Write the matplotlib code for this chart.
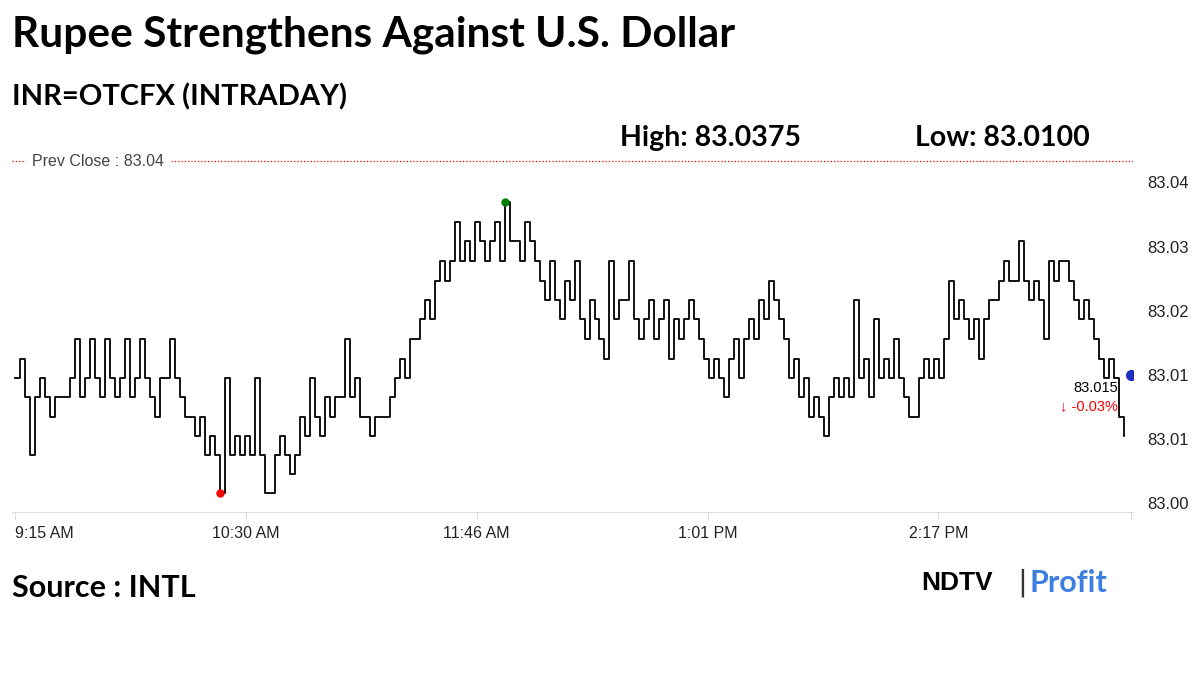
import numpy as np
import matplotlib.pyplot as plt

# INR=OTCFX intraday, one reading about every 1.6 minutes from 9:15 AM
price = [
    83.0146, 83.0169, 83.0124, 83.0056, 83.0124, 83.0146, 83.0124, 83.0101, 83.0124, 83.0124,
    83.0124, 83.0146, 83.0192, 83.0124, 83.0146, 83.0192, 83.0146, 83.0124, 83.0192, 83.0146,
    83.0124, 83.0146, 83.0192, 83.0124, 83.0146, 83.0192, 83.0146, 83.0124, 83.0101, 83.0146,
    83.0146, 83.0192, 83.0146, 83.0124, 83.0101, 83.0101, 83.0078, 83.0101, 83.0056, 83.0078,
    83.0056, 83.0012, 83.0146, 83.0056, 83.0078, 83.0056, 83.0078, 83.0056, 83.0146, 83.0056,
    83.0012, 83.0012, 83.0056, 83.0078, 83.0056, 83.0034, 83.0056, 83.0101, 83.0078, 83.0146,
    83.0101, 83.0078, 83.0124, 83.0101, 83.0124, 83.0124, 83.0192, 83.0124, 83.0146, 83.0101,
    83.0101, 83.0078, 83.0101, 83.0101, 83.0101, 83.0124, 83.0146, 83.0169, 83.0146, 83.0192,
    83.0192, 83.0215, 83.0238, 83.0215, 83.0260, 83.0283, 83.0260, 83.0283, 83.0329, 83.0283,
    83.0306, 83.0283, 83.0329, 83.0306, 83.0283, 83.0306, 83.0329, 83.0283, 83.0352, 83.0306,
    83.0306, 83.0283, 83.0329, 83.0306, 83.0283, 83.0260, 83.0238, 83.0283, 83.0238, 83.0215,
    83.0260, 83.0238, 83.0283, 83.0215, 83.0192, 83.0238, 83.0215, 83.0192, 83.0169, 83.0283,
    83.0215, 83.0238, 83.0238, 83.0283, 83.0215, 83.0192, 83.0215, 83.0238, 83.0192, 83.0215,
    83.0238, 83.0169, 83.0215, 83.0192, 83.0215, 83.0238, 83.0215, 83.0192, 83.0169, 83.0146,
    83.0169, 83.0146, 83.0124, 83.0169, 83.0192, 83.0146, 83.0192, 83.0215, 83.0192, 83.0238,
    83.0215, 83.0260, 83.0238, 83.0215, 83.0192, 83.0146, 83.0169, 83.0124, 83.0146, 83.0101,
    83.0124, 83.0101, 83.0078, 83.0124, 83.0146, 83.0124, 83.0146, 83.0124, 83.0238, 83.0146,
    83.0169, 83.0124, 83.0215, 83.0146, 83.0169, 83.0146, 83.0192, 83.0146, 83.0124, 83.0101,
    83.0101, 83.0146, 83.0169, 83.0146, 83.0169, 83.0146, 83.0192, 83.0260, 83.0215, 83.0238,
    83.0215, 83.0192, 83.0215, 83.0169, 83.0215, 83.0238, 83.0238, 83.0260, 83.0283, 83.0260,
    83.0260, 83.0306, 83.0260, 83.0238, 83.0260, 83.0238, 83.0192, 83.0283, 83.0260, 83.0283,
    83.0283, 83.0260, 83.0238, 83.0215, 83.0238, 83.0215, 83.0192, 83.0169, 83.0146, 83.0169,
    83.0146, 83.0101, 83.0078,
]
step_min = 1.63
minutes = np.arange(len(price)) * step_min

prev_close = 83.04
day_high, day_low = 83.0375, 83.0100
last_price = 83.015
change_pct = -0.03
low_idx, high_idx = 41, 98

xtick_min = [0, 75.3, 150.6, 226, 301.3]
xtick_lab = ['9:15 AM', '10:30 AM', '11:46 AM', '1:01 PM', '2:17 PM']
ytick_val = [83.0, 83.0075, 83.015, 83.0225, 83.03, 83.0375]
ytick_lab = ['83.00', '83.01', '83.01', '83.02', '83.03', '83.04']

fig = plt.figure(figsize=(12, 6.75), dpi=100)
ax = fig.add_axes([12/1200, 1-512/675, 1121/1200, 362/675])

ax.plot(minutes, price, color='black', lw=1.3, drawstyle='steps-post')
ax.plot(minutes[low_idx], price[low_idx], 'o', color='red', ms=5)
ax.plot(minutes[high_idx], price[high_idx], 'o', color='green', ms=5)
x_end = 364.8
ax.plot(x_end - 0.6, last_price, 'o', color='#1f2fbf', ms=7)
ax.axhline(prev_close, color='red', ls=':', lw=0.9)

ax.set_xlim(-1, x_end)
ax.set_ylim(82.99895, 83.0413)
ax.set_xticks(xtick_min + [x_end - 0.5])
ax.set_xticklabels(xtick_lab + [''], fontsize=11.5, family='Liberation Sans', color='#222222')
ax.set_yticks(ytick_val)
ax.set_yticklabels(ytick_lab, fontsize=12, family='Liberation Sans', color='#222222')
ax.yaxis.tick_right()
ax.tick_params(axis='y', length=0, pad=10)
ax.tick_params(axis='x', length=6, color='#dddddd', pad=4)
for s in ['top', 'left', 'right']:
    ax.spines[s].set_visible(False)
ax.spines['bottom'].set_color('#dddddd')
for lab in ax.get_xticklabels()[:1]:
    lab.set_horizontalalignment('left')
    lab.set_x(-1)

ax.text(5.5, prev_close, 'Prev Close : %.2f' % prev_close, fontsize=11.5, family='Liberation Sans',
        color='#444444', va='center', ha='left', backgroundcolor='white')
ax.text(x_end - 5, 83.0134, '%.3f' % last_price, fontsize=10.5, family='Liberation Sans',
        ha='right', va='center')
ax.text(x_end - 5, 83.0113, '\u2193 %.2f%%' % change_pct, fontsize=10.5, family='Liberation Sans',
        color='red', ha='right', va='center')

fig.text(12/1200, 1-35/675, 'Rupee Strengthens Against U.S. Dollar', fontsize=30.5,
         weight='bold', family='Lato', va='center')
fig.text(12/1200, 1-97/675, 'INR=OTCFX (INTRADAY)', fontsize=21, weight='bold', family='Lato', va='center')
fig.text(620/1200, 1-138/675, 'High: %.4f' % day_high, fontsize=20.5, weight='bold', family='Lato', va='center')
fig.text(915/1200, 1-138/675, 'Low: %.4f' % day_low, fontsize=20.5, weight='bold', family='Lato', va='center')
fig.text(12/1200, 1-588/675, 'Source : INTL', fontsize=22, weight='bold', family='Lato', va='center')
fig.text(921/1200, 1-583/675, 'NDTV', fontsize=19, weight='bold', family='Liberation Sans', va='center')
fig.text(1017/1200, 1-583/675, '|', fontsize=21, family='DejaVu Sans', va='center', color='#333333')
fig.text(1030/1200, 1-583/675, 'Profit', fontsize=22, weight='bold', family='Lato', va='center', color='#3d7fe0')

fig.savefig('out.png', dpi=100)
